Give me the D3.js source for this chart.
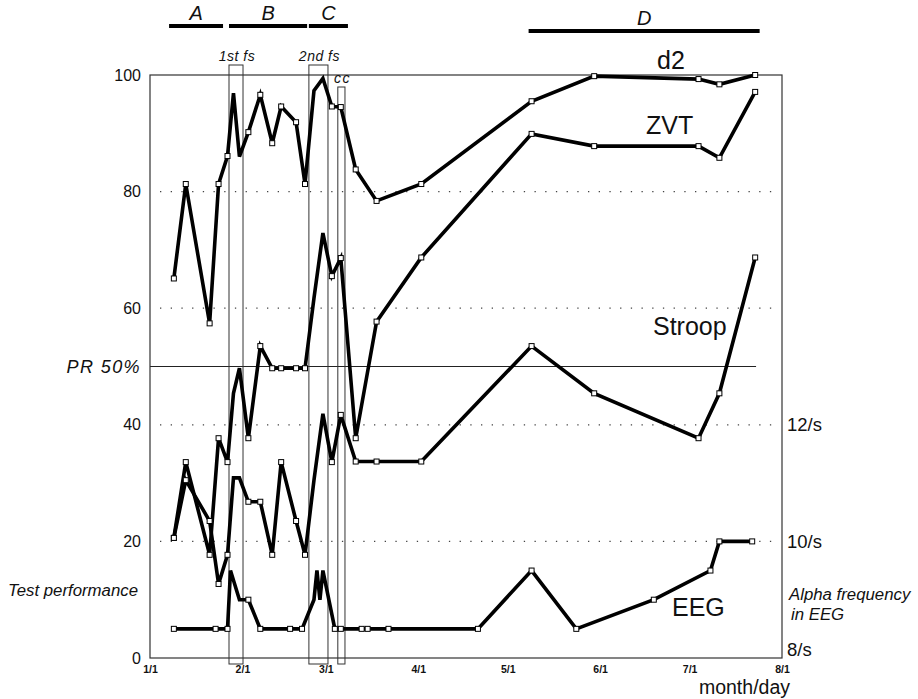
<!DOCTYPE html>
<html lang="en">
<head>
<meta charset="UTF-8">
<title>Test performance and alpha frequency</title>
<script src="https://d3js.org/d3.v7.min.js"></script>
<style>
  body { margin: 0; background: #fff; }
  svg { font-family: "Liberation Sans", Arial, sans-serif; }
  svg text { fill: #111; }
</style>
</head>
<body>
<div id="chart"></div>
<script>
// test days (month/day) shared by d2, ZVT and Stroop
const testDates = ["1/9","1/13","1/21","1/24","1/27","1/29","1/31","2/3","2/7","2/11","2/14","2/19","2/22",
                   "2/25","2/28","3/3","3/6","3/11","3/18","4/2","5/9","5/30","7/4","7/11","7/23"];
// percentile ranks
const d2Values     = [65.1,81.3,57.4,81.3,86.1,96.9,86.0,90.2,96.6,88.3,94.6,91.9,81.3,
                      97.3,99.4,94.6,94.5,83.8,78.4,81.3,95.5,99.8,99.3,98.4,100];
const zvtValues    = [20.6,33.6,17.7,37.7,33.6,45.4,49.7,37.7,53.5,49.7,49.7,49.7,49.7,
                      61.7,72.9,65.5,68.6,37.7,57.7,68.7,89.9,87.8,87.8,85.8,97.1];
const stroopValues = [20.6,30.5,23.5,12.7,17.7,30.9,30.9,26.8,26.8,17.7,33.6,23.5,17.7,
                      30.5,41.9,33.6,41.7,33.7,33.7,33.7,53.5,45.4,37.7,45.4,68.7];

// EEG alpha frequency (Hz)
const eegDates  = ["1/9","1/23","1/27","1/28","1/31","2/3","2/7","2/17","2/21","2/25","2/26","2/27","2/28",
                   "3/4","3/6","3/13","3/15","3/22","4/21","5/9","5/24","6/19","7/8","7/11","7/22"];
const eegValues = [8.5,8.5,8.5,9.5,9.0,9.0,8.5,8.5,8.5,9.0,9.5,9.0,9.5,
                   8.5,8.5,8.5,8.5,8.5,8.5,9.5,8.5,9.0,9.5,10,10];

// phases and treatment boxes (fractional days allowed)
const phaseNames  = ["A","B","C","D"];
const phaseStart  = ["1/7.4","1/27.5","2/23.3","5/8"];
const phaseEnd    = ["1/25.5","2/22.7","3/8.4","7/24.5"];
const boxNames    = ["1st fs","2nd fs","cc"];
const boxStart    = ["1/27.5","2/23.3","3/5"];
const boxEnd      = ["2/1.2","3/1.7","3/7.4"];

const prTicks  = [0,20,40,60,80,100];
const gridVals = [20,40,60,80];
const hzTicks  = [8,10,12];

function parseMD(s) {
  const [m, d] = s.split("/").map(Number);
  return new Date(Date.UTC(1991, m - 1, 1) + (d - 1) * 864e5);
}

const width = 918, height = 699;
const plotLeft = 150, plotRight = 782, plotTop = 75, plotBottom = 658;

const svg = d3.select("#chart").append("svg")
  .attr("width", width)
  .attr("height", height);

const x = d3.scaleUtc()
  .domain([parseMD("1/1"), parseMD("8/1")])
  .range([plotLeft, plotRight]);
const y = d3.scaleLinear().domain([0, 100]).range([plotBottom, plotTop]);
const yHz = d3.scaleLinear().domain([8, 18]).range([plotBottom, plotTop]);

// dotted grid lines
svg.append("g").selectAll("line")
  .data(gridVals)
  .enter().append("line")
  .attr("x1", plotLeft + 10).attr("x2", plotRight - 8)
  .attr("y1", d => y(d)).attr("y2", d => y(d))
  .attr("stroke", "#444")
  .attr("stroke-width", 1.3)
  .attr("stroke-dasharray", "1.3,9.4");

// PR 50% reference line
svg.append("line")
  .attr("x1", plotLeft).attr("x2", x(parseMD("7/23.3")))
  .attr("y1", y(50)).attr("y2", y(50))
  .attr("stroke", "#222").attr("stroke-width", 1.2);

// frame
svg.append("rect")
  .attr("x", plotLeft).attr("y", plotTop)
  .attr("width", plotRight - plotLeft).attr("height", plotBottom - plotTop)
  .attr("fill", "none").attr("stroke", "#333").attr("stroke-width", 1.2);

// treatment boxes
boxNames.forEach((name, i) => {
  const x0 = x(parseMD(boxStart[i])), x1 = x(parseMD(boxEnd[i]));
  const y0 = name === "cc" ? plotTop + 12 : plotTop - 10;
  svg.append("rect")
    .attr("x", x0).attr("y", y0)
    .attr("width", x1 - x0).attr("height", plotBottom + 6 - y0)
    .attr("fill", "none").attr("stroke", "#333").attr("stroke-width", 1);
  svg.append("text")
    .attr("x", (x0 + x1) / 2 + 1)
    .attr("y", y0 - 4)
    .attr("text-anchor", "middle")
    .attr("font-style", "italic")
    .attr("font-size", 14)
    .attr("letter-spacing", name === "cc" ? 1.5 : 0.5)
    .text(name);
});

// phase bars
phaseNames.forEach((name, i) => {
  const x0 = x(parseMD(phaseStart[i])), x1 = x(parseMD(phaseEnd[i]));
  const yb = name === "D" ? 31 : 26;
  svg.append("line")
    .attr("x1", x0).attr("x2", x1)
    .attr("y1", yb).attr("y2", yb)
    .attr("stroke", "#000").attr("stroke-width", 4);
  svg.append("text")
    .attr("x", (x0 + x1) / 2)
    .attr("y", yb - 6)
    .attr("text-anchor", "middle")
    .attr("font-style", "italic")
    .attr("font-size", 20)
    .text(name);
});

// axes
const yAxis = svg.append("g")
  .attr("transform", `translate(${plotLeft},0)`)
  .call(d3.axisLeft(y).tickValues(prTicks).tickSize(0).tickPadding(9));
yAxis.select(".domain").remove();
yAxis.selectAll("text").attr("font-size", 16).attr("fill", "#111");

const hzAxis = svg.append("g")
  .attr("transform", `translate(${plotRight},0)`)
  .call(d3.axisRight(yHz).tickValues(hzTicks).tickFormat(d => d + "/s").tickSize(0).tickPadding(5));
hzAxis.select(".domain").remove();
hzAxis.selectAll("text").attr("font-size", 18.5).attr("fill", "#111");
hzAxis.selectAll("text").filter(d => d === 8).attr("dy", "-0.12em");

const xAxis = svg.append("g")
  .attr("transform", `translate(0,${plotBottom})`)
  .call(d3.axisBottom(x)
    .tickValues(d3.utcMonth.range(parseMD("1/1"), parseMD("8/2")))
    .tickFormat(d3.utcFormat("%-m/%-d"))
    .tickSize(0).tickPadding(8));
xAxis.select(".domain").remove();
xAxis.selectAll("text").attr("font-size", 10.5).attr("font-weight", "bold").attr("fill", "#222");

// series
const line = d3.line().x(d => x(d.date)).y(d => d.y);
const inBox = dt => boxStart.some((s, i) => i < 2 && dt >= parseMD(s) && dt <= parseMD(boxEnd[i]));

const series = [
  testDates.map((s, i) => ({ date: parseMD(s), y: y(d2Values[i]) })),
  testDates.map((s, i) => ({ date: parseMD(s), y: y(zvtValues[i]) })),
  testDates.map((s, i) => ({ date: parseMD(s), y: y(stroopValues[i]) })),
  eegDates.map((s, i) => ({ date: parseMD(s), y: yHz(eegValues[i]) }))
];

series.forEach(pts => {
  svg.append("path")
    .datum(pts)
    .attr("d", line)
    .attr("fill", "none")
    .attr("stroke", "#000")
    .attr("stroke-width", 3.6)
    .attr("stroke-linejoin", "miter")
    .attr("stroke-miterlimit", 4);
});

series.forEach(pts => {
  svg.append("g").selectAll("rect")
    .data(pts.filter(d => !inBox(d.date)))
    .enter().append("rect")
    .attr("x", d => x(d.date) - 2.5)
    .attr("y", d => d.y - 2.5)
    .attr("width", 5).attr("height", 5)
    .attr("fill", "#fff")
    .attr("stroke", "#000")
    .attr("stroke-width", 1);
});

// series labels
const seriesLabels = [["d2", 657, 69], ["ZVT", 646, 134], ["Stroop", 653, 335], ["EEG", 672, 616]];
seriesLabels.forEach(([t, lx, ly]) => {
  svg.append("text").attr("x", lx).attr("y", ly)
    .attr("font-size", 25).text(t);
});

// other texts
svg.append("text").attr("x", 141).attr("y", y(50) + 6)
  .attr("text-anchor", "end").attr("font-style", "italic")
  .attr("font-size", 18).attr("letter-spacing", 1.4).text("PR 50%");
svg.append("text").attr("x", 8).attr("y", 596)
  .attr("font-style", "italic").attr("font-size", 16.8).text("Test performance");
svg.append("text").attr("x", 789).attr("y", 600)
  .attr("font-style", "italic").attr("font-size", 16.8).text("Alpha frequency");
svg.append("text").attr("x", 791).attr("y", 620)
  .attr("font-style", "italic").attr("font-size", 16.8).text("in EEG");
svg.append("text").attr("x", 790).attr("y", 694)
  .attr("text-anchor", "end").attr("font-size", 19.5).text("month/day");
</script>
</body>
</html>
